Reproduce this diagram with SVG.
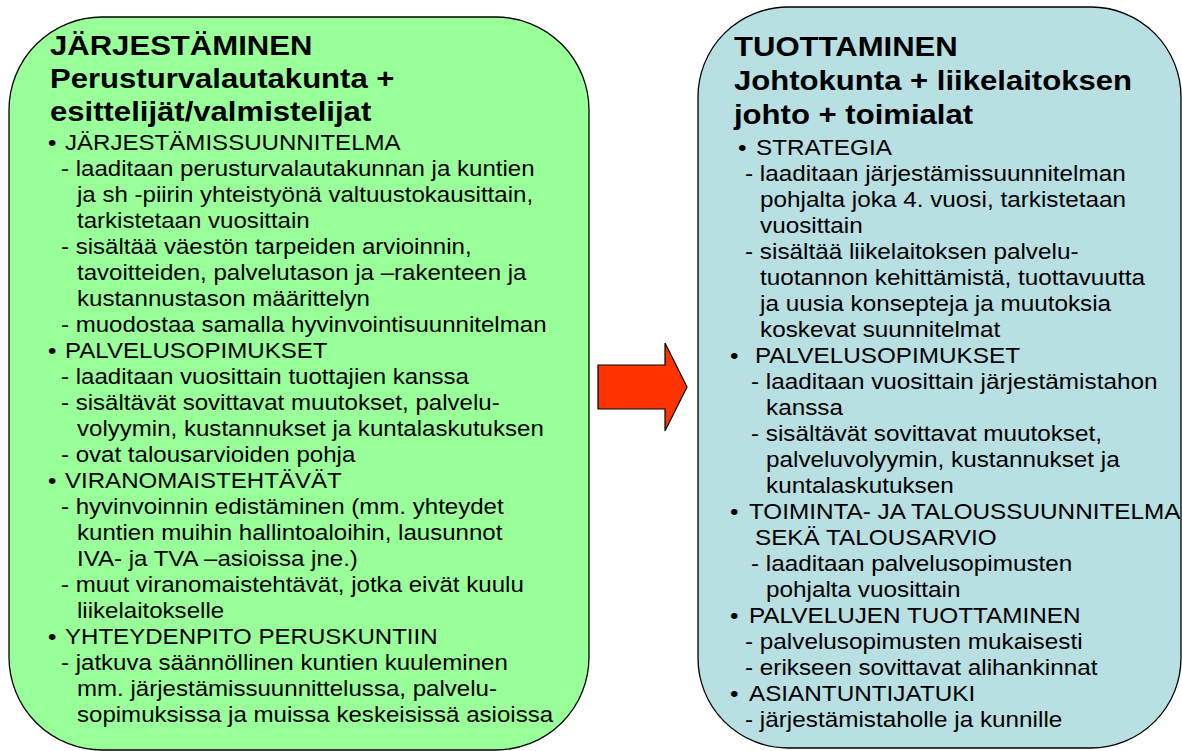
<svg xmlns="http://www.w3.org/2000/svg" width="1182" height="751" viewBox="0 0 1182 751">
<style>
.box{stroke:#000;stroke-width:1.3}
.t{font-family:"Liberation Sans",Arial,sans-serif;font-size:28px;font-weight:bold;fill:#000}
.b{font-family:"Liberation Sans",Arial,sans-serif;font-size:21.5px;fill:#000}
</style>
<rect width="1182" height="751" fill="#fff"/>
<g id="jarjestaminen">
<rect class="box" x="9" y="17" width="580" height="733" rx="93" ry="93" fill="#99FF99"/>
<g transform="translate(9 0) scale(1.11 1)">
<text class="t"><tspan x="36.9" y="55">JÄRJESTÄMINEN</tspan><tspan x="36.9" y="88">Perusturvalautakunta +</tspan><tspan x="36.9" y="121">esittelijät/valmistelijat</tspan></text>
</g>
<g transform="translate(9 0) scale(1.12 1)">
<text class="b">
<tspan x="34.8" y="150">•</tspan><tspan x="50" y="150">JÄRJESTÄMISSUUNNITELMA</tspan>
<tspan x="46.4" y="176">- laaditaan perusturvalautakunnan ja kuntien</tspan>
<tspan x="60.7" y="202">ja sh -piirin yhteistyönä valtuustokausittain,</tspan>
<tspan x="60.7" y="228">tarkistetaan vuosittain</tspan>
<tspan x="46.4" y="254">- sisältää väestön tarpeiden arvioinnin,</tspan>
<tspan x="60.7" y="280">tavoitteiden, palvelutason ja –rakenteen ja</tspan>
<tspan x="60.7" y="306">kustannustason määrittelyn</tspan>
<tspan x="46.4" y="332">- muodostaa samalla hyvinvointisuunnitelman</tspan>
<tspan x="34.8" y="358">•</tspan><tspan x="50" y="358">PALVELUSOPIMUKSET</tspan>
<tspan x="46.4" y="384">- laaditaan vuosittain tuottajien kanssa</tspan>
<tspan x="46.4" y="410">- sisältävät sovittavat muutokset, palvelu-</tspan>
<tspan x="60.7" y="436">volyymin, kustannukset ja kuntalaskutuksen</tspan>
<tspan x="46.4" y="462">- ovat talousarvioiden pohja</tspan>
<tspan x="34.8" y="488">•</tspan><tspan x="50" y="488">VIRANOMAISTEHTÄVÄT</tspan>
<tspan x="46.4" y="514">- hyvinvoinnin edistäminen (mm. yhteydet</tspan>
<tspan x="60.7" y="540">kuntien muihin hallintoaloihin, lausunnot</tspan>
<tspan x="60.7" y="566">IVA- ja TVA –asioissa jne.)</tspan>
<tspan x="46.4" y="592">- muut viranomaistehtävät, jotka eivät kuulu</tspan>
<tspan x="60.7" y="618">liikelaitokselle</tspan>
<tspan x="34.8" y="644">•</tspan><tspan x="50" y="644">YHTEYDENPITO PERUSKUNTIIN</tspan>
<tspan x="46.4" y="670">- jatkuva säännöllinen kuntien kuuleminen</tspan>
<tspan x="60.7" y="696">mm. järjestämissuunnittelussa, palvelu-</tspan>
<tspan x="60.7" y="722">sopimuksissa ja muissa keskeisissä asioissa</tspan>
</text>
</g>
</g>
<g id="tuottaminen">
<rect class="box" x="698" y="7" width="483" height="741" rx="90" ry="90" fill="#B8DFE2"/>
<g transform="translate(698 0) scale(1.11 1)">
<text class="t"><tspan x="32.4" y="56">TUOTTAMINEN</tspan><tspan x="32.4" y="90">Johtokunta + liikelaitoksen</tspan><tspan x="32.4" y="124">johto + toimialat</tspan></text>
</g>
<g transform="translate(698 0) scale(1.13 1)">
<text class="b">
<tspan x="35.4" y="155">•</tspan><tspan x="51.3" y="155">STRATEGIA</tspan>
<tspan x="41.6" y="181">- laaditaan järjestämissuunnitelman</tspan>
<tspan x="54.9" y="207">pohjalta joka 4. vuosi, tarkistetaan</tspan>
<tspan x="54.9" y="233">vuosittain</tspan>
<tspan x="41.6" y="259">- sisältää liikelaitoksen palvelu-</tspan>
<tspan x="54.9" y="285">tuotannon kehittämistä, tuottavuutta</tspan>
<tspan x="54.9" y="311">ja uusia konsepteja ja muutoksia</tspan>
<tspan x="54.9" y="337">koskevat suunnitelmat</tspan>
<tspan x="28.3" y="363">•</tspan><tspan x="50.4" y="363">PALVELUSOPIMUKSET</tspan>
<tspan x="46.9" y="389">- laaditaan vuosittain järjestämistahon</tspan>
<tspan x="60.2" y="415">kanssa</tspan>
<tspan x="46.9" y="441">- sisältävät sovittavat muutokset,</tspan>
<tspan x="60.2" y="467">palveluvolyymin, kustannukset ja</tspan>
<tspan x="60.2" y="493">kuntalaskutuksen</tspan>
<tspan x="28.3" y="519">•</tspan><tspan x="45.1" y="519">TOIMINTA- JA TALOUSSUUNNITELMA</tspan>
<tspan x="50.4" y="545">SEKÄ TALOUSARVIO</tspan>
<tspan x="46.9" y="571">- laaditaan palvelusopimusten</tspan>
<tspan x="60.2" y="597">pohjalta vuosittain</tspan>
<tspan x="28.3" y="623">•</tspan><tspan x="45.1" y="623">PALVELUJEN TUOTTAMINEN</tspan>
<tspan x="41.6" y="649">- palvelusopimusten mukaisesti</tspan>
<tspan x="41.6" y="675">- erikseen sovittavat alihankinnat</tspan>
<tspan x="28.3" y="701">•</tspan><tspan x="45.1" y="701">ASIANTUNTIJATUKI</tspan>
<tspan x="41.6" y="727">- järjestämistaholle ja kunnille</tspan>
</text>
</g>
</g>
<g id="connectors">
<polygon points="598,365 665,365 665,343 687,387 665,431 665,409 598,409" fill="#FF3300" stroke="#000" stroke-width="1.2" stroke-linejoin="miter"/>
</g>
</svg>
